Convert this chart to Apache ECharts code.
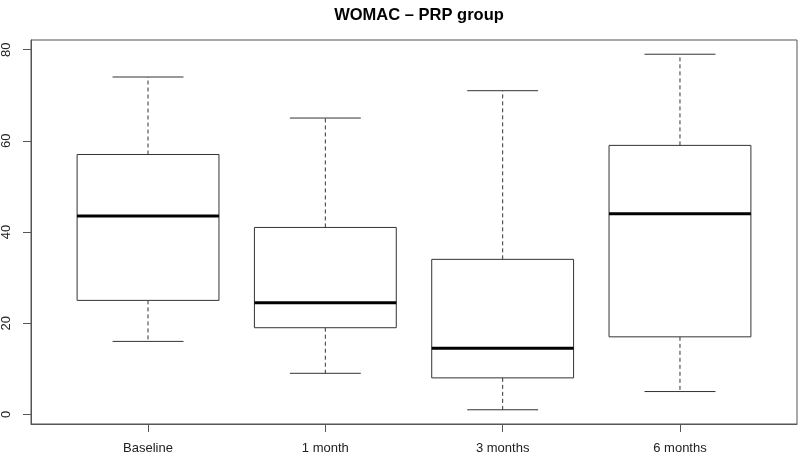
<!DOCTYPE html>
<html>
<head>
<meta charset="utf-8">
<script src="https://cdn.jsdelivr.net/npm/echarts@6/dist/echarts.min.js"></script>
<style>html,body{margin:0;padding:0;background:#fff}#c{width:800px;height:457px}</style>
</head>
<body>
<div id="c"></div>
<script>
const categories = ['Baseline', '1 month', '3 months', '6 months'];
const mins    = [16, 9, 1, 5];
const q1s     = [25, 19, 8, 17];
const medians = [43.5, 24.5, 14.5, 44];
const q3s     = [57, 41, 34, 59];
const maxs    = [74, 65, 71, 79];
const yTicks  = [0, 20, 40, 60, 80];
const xTicks  = [1, 2, 3, 4];

const FONT = '"Liberation Sans", Arial, Helvetica, sans-serif';
const LINE = '#333';

const rows = categories.map((c, i) => [i + 1, mins[i], q1s[i], medians[i], q3s[i], maxs[i]]);

function renderItem(params, api) {
  const x = api.value(0);
  const lo = api.value(1), q1 = api.value(2), md = api.value(3), q3 = api.value(4), hi = api.value(5);
  const boxHalf = 0.4, capHalf = 0.2;
  const pTL = api.coord([x - boxHalf, q3]);
  const pBR = api.coord([x + boxHalf, q1]);
  const pc = (v) => api.coord([x, v]);
  const pl = (v, h) => api.coord([x - h, v]);
  const pr = (v, h) => api.coord([x + h, v]);
  const children = [];
  children.push({type:'line', shape:{x1:pc(q3)[0], y1:pc(q3)[1], x2:pc(hi)[0], y2:pc(hi)[1]},
    style:{stroke:LINE, lineWidth:1, lineDash:[4,3]}});
  children.push({type:'line', shape:{x1:pc(q1)[0], y1:pc(q1)[1], x2:pc(lo)[0], y2:pc(lo)[1]},
    style:{stroke:LINE, lineWidth:1, lineDash:[4,3]}});
  children.push({type:'line', shape:{x1:pl(hi,capHalf)[0], y1:pl(hi,capHalf)[1], x2:pr(hi,capHalf)[0], y2:pr(hi,capHalf)[1]},
    style:{stroke:LINE, lineWidth:1}});
  children.push({type:'line', shape:{x1:pl(lo,capHalf)[0], y1:pl(lo,capHalf)[1], x2:pr(lo,capHalf)[0], y2:pr(lo,capHalf)[1]},
    style:{stroke:LINE, lineWidth:1}});
  children.push({type:'rect', shape:{x:pTL[0], y:pTL[1], width:pBR[0]-pTL[0], height:pBR[1]-pTL[1]},
    style:{fill:'#fff', stroke:LINE, lineWidth:1}});
  children.push({type:'line', shape:{x1:pl(md,boxHalf)[0], y1:pl(md,boxHalf)[1], x2:pr(md,boxHalf)[0], y2:pr(md,boxHalf)[1]},
    style:{stroke:'#000', lineWidth:3}});
  return {type:'group', children};
}

const chart = echarts.init(document.getElementById('c'), null, {renderer:'canvas'});
chart.setOption({
  animation: false,
  backgroundColor: '#fff',
  title: {
    text: 'WOMAC \u2013 PRP group',
    left: 414, top: 2, textAlign: 'center',
    textStyle: {fontFamily: FONT, fontWeight: 'bold', fontSize: 16.5, color: '#000'}
  },
  grid: {left: 31, right: 3, top: 40, bottom: 33, show: true, borderColor: '#555', borderWidth: 1, backgroundColor: 'transparent'},
  xAxis: {
    type: 'value', min: 0.34, max: 4.66,
    splitLine: {show: false},
    axisLine: {show: true, onZero: false, lineStyle: {color: '#555'}},
    axisTick: {show: true, customValues: xTicks, length: 8, lineStyle: {color: '#555'}},
    axisLabel: {customValues: xTicks, margin: 18, formatter: (v) => categories[Math.round(v) - 1] || '',
      fontFamily: FONT, fontSize: 13, color: '#222'}
  },
  yAxis: {
    type: 'value', min: -2.12, max: 82.12,
    splitLine: {show: false},
    axisLine: {show: true, onZero: false, lineStyle: {color: '#555'}},
    axisTick: {show: true, customValues: yTicks, length: 8, lineStyle: {color: '#555'}},
    axisLabel: {customValues: yTicks, rotate: 90, margin: 18, fontFamily: FONT, fontSize: 13, color: '#222'}
  },
  series: [{
    type: 'custom',
    renderItem: renderItem,
    encode: {x: 0, y: [1, 2, 3, 4, 5]},
    data: rows
  }]
});
</script>
</body>
</html>
